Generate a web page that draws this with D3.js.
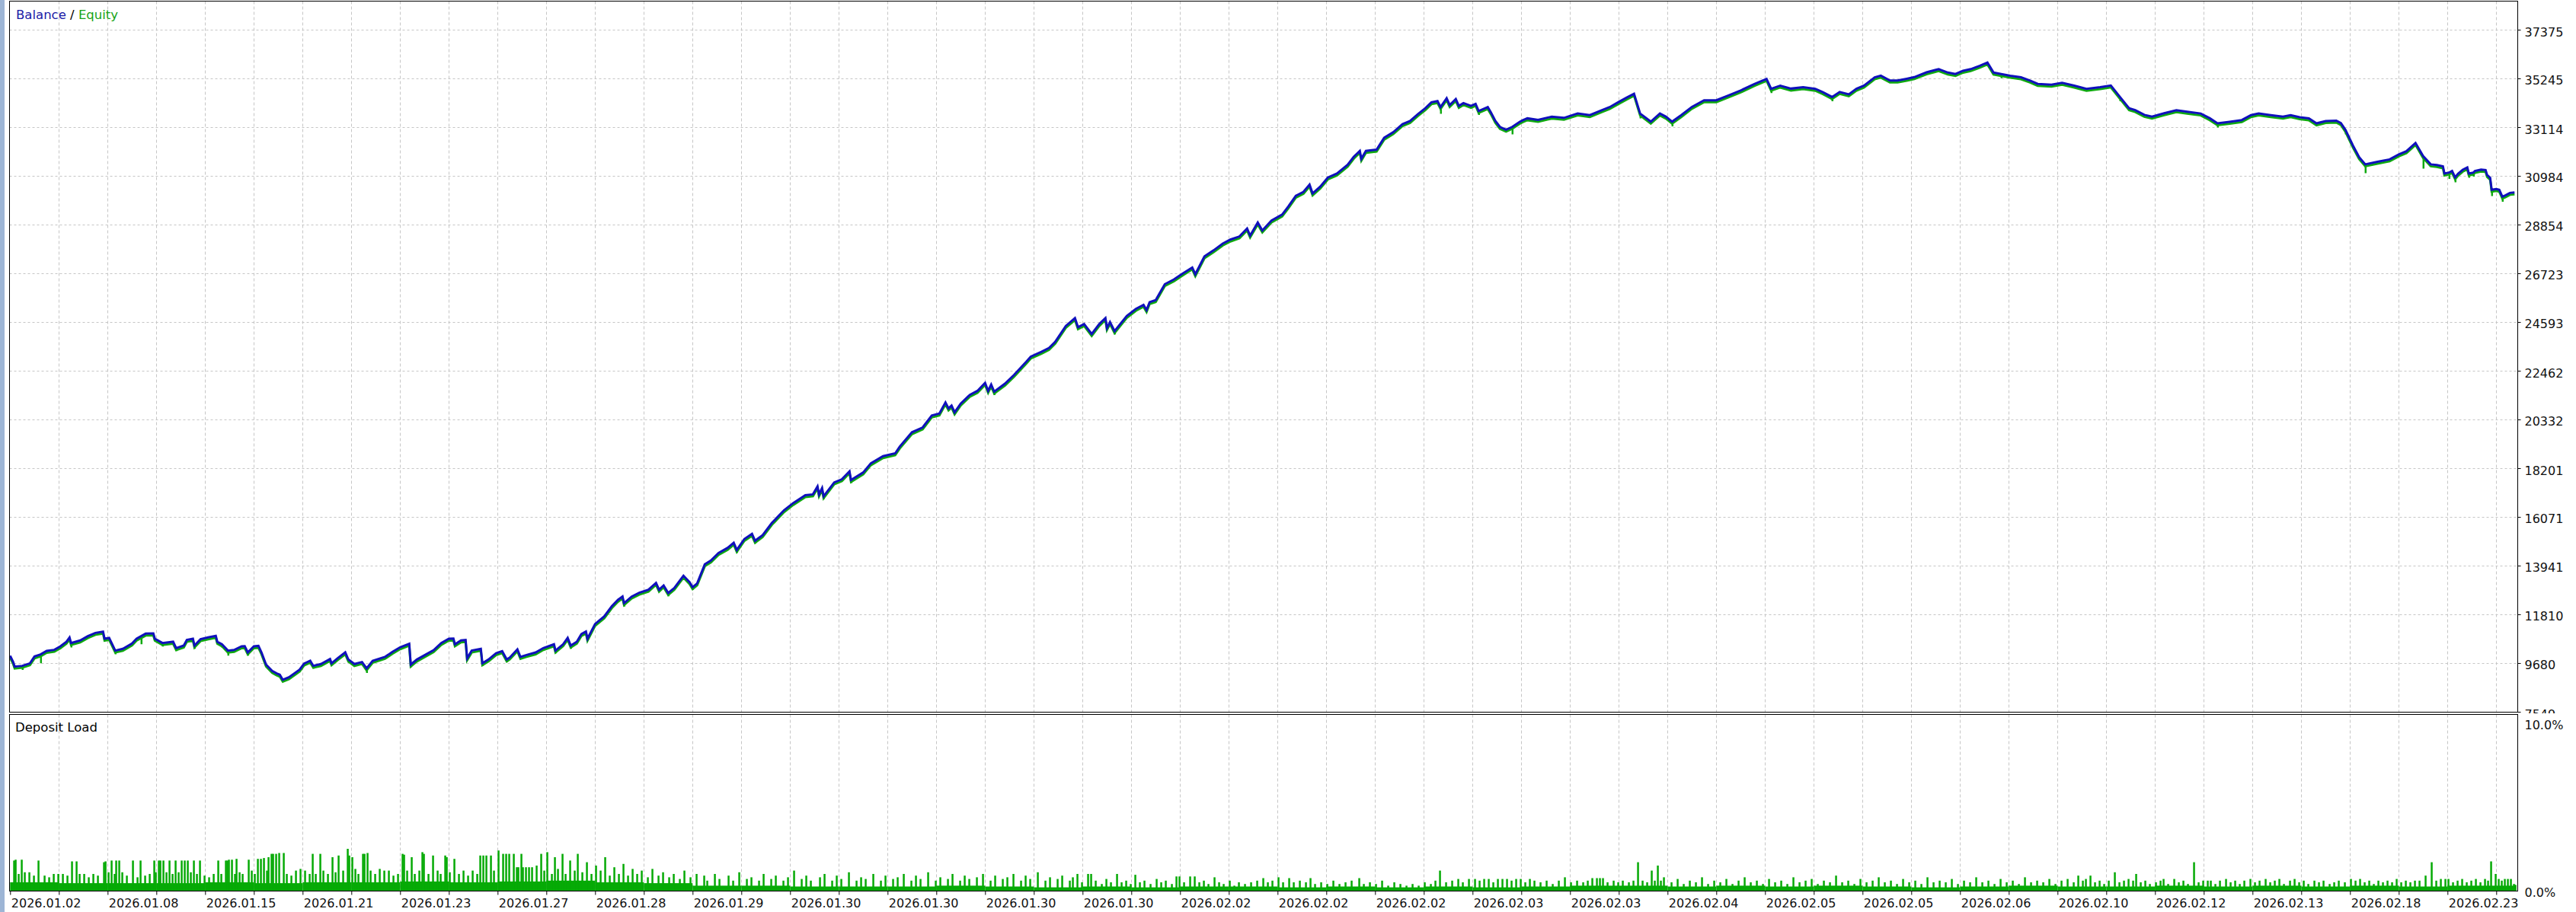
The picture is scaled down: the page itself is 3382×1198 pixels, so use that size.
<!DOCTYPE html>
<html>
<head>
<meta charset="utf-8">
<script src="https://cdn.jsdelivr.net/npm/d3@7"></script>
<style>
html,body{margin:0;padding:0;background:#fff;}
svg{display:block;}
</style>
</head>
<body>
<svg id="chart" width="3382" height="1198"></svg>
<script>
// ---------------- DATA ----------------
const tradeCount = 1645;
const balanceTicks = [7549, 9680, 11810, 13941, 16071, 18201, 20332, 22462, 24593, 26723, 28854, 30984, 33114, 35245, 37375];
const loadTicks = [0, 10];
const dateLabels = ["2026.01.02","2026.01.08","2026.01.15","2026.01.21","2026.01.23","2026.01.27","2026.01.28","2026.01.29",
  "2026.01.30","2026.01.30","2026.01.30","2026.01.30","2026.02.02","2026.02.02","2026.02.02","2026.02.03","2026.02.03",
  "2026.02.04","2026.02.05","2026.02.05","2026.02.06","2026.02.10","2026.02.12","2026.02.13","2026.02.18","2026.02.23"];

// balance: [trade number, balance]
const balance = [[0,10000],[2,9724],[3,9525],[8,9558],[13,9669],[16,9968],[20,10057],[24,10213],[29,10257],[33,10412],[37,10612],[39,10800],[40,10557],[46,10668],[51,10856],[56,11000],[61,11056],[62,10745],[65,10779],[69,10224],[74,10301],[80,10534],[83,10745],[89,10967],[94,10978],[95,10745],[100,10557],[107,10612],[109,10335],[114,10446],[116,10690],[120,10745],[121,10446],[125,10723],[130,10800],[135,10867],[136,10612],[139,10501],[143,10224],[147,10250],[152,10412],[154,10420],[156,10146],[160,10412],[163,10430],[165,10146],[168,9613],[172,9336],[175,9225],[177,9170],[179,8948],[183,9059],[190,9391],[193,9658],[197,9780],[199,9558],[204,9636],[210,9857],[211,9669],[215,9890],[220,10146],[222,9835],[226,9636],[231,9724],[234,9447],[238,9780],[246,9946],[251,10168],[256,10368],[262,10523],[263,9613],[267,9835],[273,10057],[278,10246],[283,10557],[288,10745],[291,10750],[292,10501],[296,10668],[299,10690],[300,9890],[303,10224],[309,10301],[310,9669],[314,9835],[319,10113],[323,10202],[326,9835],[328,9924],[333,10279],[335,9946],[339,10035],[345,10146],[350,10335],[357,10501],[358,10224],[363,10501],[366,10779],[368,10446],[372,10612],[375,10945],[378,11056],[379,10745],[384,11389],[390,11722],[395,12165],[399,12443],[402,12587],[403,12298],[408,12587],[413,12753],[419,12887],[424,13186],[426,12887],[429,13075],[432,12742],[436,12964],[442,13497],[446,13219],[448,12997],[451,13164],[456,13996],[460,14162],[465,14495],[471,14717],[475,14939],[477,14628],[482,15105],[487,15327],[489,15028],[494,15272],[500,15803],[508,16361],[514,16674],[522,17023],[527,17057],[530,17405],[531,17057],[533,17335],[534,16970],[541,17579],[546,17718],[551,18066],[552,17683],[560,18014],[565,18414],[573,18727],[581,18849],[584,19145],[592,19772],[599,19981],[605,20503],[610,20590],[614,21077],[616,20816],[618,20938],[620,20642],[624,21025],[630,21408],[635,21582],[640,21930],[642,21582],[644,21861],[646,21547],[653,21895],[659,22278],[667,22853],[670,23079],[677,23288],[682,23462],[686,23723],[693,24419],[699,24767],[701,24367],[705,24506],[710,24071],[715,24506],[719,24767],[720,24332],[722,24593],[725,24193],[733,24854],[739,25168],[744,25342],[746,25115],[748,25463],[752,25550],[758,26247],[764,26456],[769,26682],[776,26978],[778,26682],[784,27465],[790,27726],[796,28021],[801,28196],[807,28335],[812,28683],[814,28370],[819,28944],[822,28596],[828,29031],[835,29292],[839,29641],[844,30111],[849,30285],[853,30598],[855,30215],[860,30511],[865,30911],[871,31085],[878,31468],[882,31816],[886,32077],[887,31729],[890,32077],[897,32130],[902,32652],[908,32895],[914,33244],[919,33383],[924,33679],[929,33940],[933,34201],[937,34253],[939,33992],[943,34375],[945,34079],[949,34340],[951,34044],[954,34166],[959,34044],[962,34131],[964,33818],[970,33992],[972,33766],[975,33383],[978,33122],[982,33000],[986,33122],[991,33348],[993,33418],[996,33500],[1003,33430],[1012,33570],[1020,33520],[1029,33710],[1037,33640],[1045,33857],[1050,33990],[1056,34216],[1061,34400],[1066,34575],[1070,33710],[1077,33354],[1083,33710],[1087,33570],[1091,33354],[1097,33640],[1104,34000],[1112,34290],[1120,34288],[1128,34500],[1136,34718],[1145,35000],[1153,35221],[1156,34790],[1162,34930],[1169,34800],[1177,34860],[1185,34790],[1190,34640],[1196,34431],[1201,34650],[1207,34550],[1212,34790],[1217,34934],[1224,35290],[1228,35364],[1234,35150],[1239,35150],[1245,35230],[1250,35300],[1258,35510],[1266,35652],[1272,35500],[1277,35436],[1282,35580],[1287,35650],[1293,35800],[1298,35939],[1302,35500],[1307,35436],[1313,35360],[1320,35293],[1326,35150],[1331,35006],[1340,34970],[1347,35050],[1355,34930],[1363,34790],[1372,34860],[1379,34934],[1385,34431],[1391,33940],[1395,33857],[1401,33650],[1406,33570],[1414,33720],[1422,33857],[1430,33780],[1438,33710],[1444,33500],[1449,33280],[1457,33350],[1465,33424],[1471,33640],[1476,33710],[1484,33640],[1492,33570],[1497,33640],[1503,33550],[1509,33500],[1514,33280],[1520,33380],[1527,33400],[1530,33290],[1533,32995],[1538,32300],[1542,31800],[1546,31487],[1554,31600],[1562,31703],[1568,31920],[1573,32062],[1579,32420],[1584,31847],[1589,31487],[1593,31459],[1597,31400],[1598,31083],[1601,31127],[1603,31200],[1605,30917],[1607,31083],[1610,31250],[1613,31349],[1614,31083],[1617,31127],[1618,31200],[1622,31260],[1625,31240],[1626,31017],[1628,30900],[1629,30374],[1632,30407],[1634,30374],[1636,30074],[1638,30130],[1641,30240],[1644,30262]];

// equity drawdown spikes: [trade number, equity low]
const equityDips = [[8,9380],[20,9670],[40,10360],[69,10060],[86,10500],[100,10400],[109,10200],[121,10300],[139,10350],[143,10000],[156,10000],[179,8850],[199,9440],[222,9700],[234,9250],[263,9500],[300,9800],[310,9550],[326,9720],[358,10100],[368,10300],[403,12150],[432,12600],[448,12880],[477,14500],[489,14900],[534,16850],[552,17550],[646,21400],[725,24050],[939,33700],[964,33650],[986,32800],[1070,33500],[1091,33150],[1156,34600],[1196,34250],[1307,35250],[1385,34250],[1449,33100],[1533,32800],[1546,31100],[1584,31300],[1601,30850],[1605,30700],[1614,30900],[1617,30950],[1629,30100],[1636,29850]];

// deposit load floor per 32-trade block (%)
const loadBase = [0.5,0.45,0.45,0.45,0.5,0.45,0.5,0.5,0.55,0.5,0.55,0.6,0.5,0.45,0.3,0.3,0.25,0.25,0.25,0.3,0.25,0.2,0.25,0.2,0.25,0.25,0.2,0.25,0.2,0.25,0.2,0.25,0.3,0.3,0.25,0.3,0.25,0.3,0.25,0.2,0.25,0.3,0.25,0.25,0.3,0.25,0.3,0.25,0.3,0.25,0.3,0.3];

// deposit load bars: [trade number, load %]
const loadBars = [[2,1.8],[3,1.85],[5,1.0],[7,1.85],[9,1.1],[12,1.1],[15,0.9],[18,1.8],[22,0.9],[25,0.8],[28,1.0],[31,1.0],[34,1.0],[37,0.9],[40,1.75],[43,1.75],[45,1.0],[48,1.0],[51,0.8],[54,1.0],[57,0.9],[61,1.7],[62,1.75],[64,1.1],[66,1.8],[68,1.0],[69,1.8],[71,1.8],[73,1.1],[76,0.9],[80,1.8],[83,0.8],[85,1.8],[88,0.9],[91,1.0],[94,1.8],[95,1.1],[97,1.8],[98,1.8],[100,1.8],[102,1.1],[104,1.8],[106,1.0],[108,1.8],[110,1.1],[112,1.8],[114,1.8],[116,1.8],[118,1.1],[120,1.8],[122,1.0],[124,1.8],[127,0.9],[130,0.8],[133,1.0],[136,1.8],[138,1.0],[141,1.8],[142,1.8],[143,1.85],[145,1.85],[147,1.0],[148,1.9],[150,1.1],[152,1.0],[156,1.85],[158,1.2],[160,1.0],[162,1.9],[164,1.9],[166,1.95],[168,1.2],[169,2.0],[171,2.2],[172,2.2],[174,2.2],[176,2.25],[179,2.25],[181,1.0],[184,0.9],[187,1.2],[190,1.3],[193,1.2],[196,1.0],[198,2.2],[200,1.0],[203,2.2],[205,1.2],[208,1.0],[211,2.0],[213,1.1],[215,2.1],[218,1.2],[221,2.5],[222,2.1],[224,2.0],[226,1.3],[228,1.0],[231,2.2],[232,2.2],[234,2.25],[236,1.2],[239,1.0],[242,1.3],[245,1.2],[248,1.2],[251,0.9],[254,1.0],[257,2.2],[258,2.15],[260,1.2],[263,2.0],[265,1.0],[268,1.2],[270,2.3],[271,2.2],[274,1.0],[277,2.1],[280,1.2],[282,1.0],[285,2.1],[286,2.0],[288,1.1],[291,1.9],[294,1.0],[297,1.2],[300,0.9],[303,1.2],[306,1.0],[308,2.1],[310,2.1],[312,2.1],[315,2.1],[317,1.2],[320,2.4],[323,2.2],[325,2.2],[327,2.2],[330,2.2],[332,1.4],[333,1.4],[335,2.2],[336,1.4],[338,1.4],[340,1.4],[342,1.4],
[345,1.5],[348,2.2],[350,1.2],[352,2.3],[355,1.0],[357,2.0],[359,1.3],[362,2.2],[364,1.0],[367,1.8],[370,1.2],[372,2.2],[375,1.1],[378,1.7],[381,1.0],[384,1.5],[387,1.2],[390,2.0],[393,0.9],[396,1.4],[399,1.0],[402,1.6],[405,0.9],[408,1.3],[411,1.0],[414,1.2],[418,0.8],[421,1.3],[425,0.9],[428,1.1],[432,0.8],[435,1.0],[439,0.7],[442,1.2],[446,0.8],[450,1.0],
[455,0.9],[457,0.6],[462,1.0],[465,0.7],[471,0.9],[474,0.6],[478,1.1],[483,0.7],[486,0.8],[491,0.6],[494,1.0],[499,0.7],[502,0.9],[507,0.6],[510,0.8],[514,1.2],[519,0.7],[522,0.9],[525,0.6],[531,0.8],[534,1.0],[539,0.6],[542,0.9],[545,0.7],[550,1.1],[555,0.6],[558,0.8],[561,0.7],[566,1.0],[571,0.6],[574,0.9],[579,0.7],[582,0.8],[586,1.0],[591,0.6],[594,0.9],[597,0.7],[602,1.1],[607,0.6],[610,0.8],[615,0.7],[618,1.0],[623,0.6],[626,0.9],[629,0.7],[634,0.8],[638,1.0],[643,0.6],[646,0.9],[651,0.7],[654,0.8],[658,1.0],[663,0.6],[666,0.9],[669,0.7],[674,1.1],[679,0.6],[682,0.8],[687,0.7],[690,0.9],[695,0.6],[697,0.8],
[700,1.0],[703,0.5],[707,1.0],[709,1.0],[712,0.6],[716,0.4],[719,0.7],[722,0.5],[726,1.0],[729,0.5],[732,0.6],[735,0.4],[738,0.95],[741,0.5],[744,0.6],[748,0.4],[752,0.7],[755,0.5],[758,0.6],[762,0.4],[765,0.85],[767,0.85],[770,0.5],[774,0.85],[777,0.85],[780,0.5],[783,0.6],[786,0.4],[790,0.8],[793,0.5],[796,0.4],[800,0.6],[803,0.3],[806,0.5],[810,0.4],[814,0.5],[818,0.6],[822,0.75],[825,0.5],[828,0.6],[832,0.8],[835,0.5],[839,0.75],[842,0.5],[846,0.6],[850,0.5],[853,0.75],[856,0.4],[860,0.5],[864,0.4],[868,0.6],[872,0.4],[876,0.5],[880,0.6],[885,0.75],[888,0.4],[892,0.5],[896,0.4],[900,0.6],[904,0.3],[908,0.5],[912,0.4],[916,0.3],[920,0.4],[924,0.3],[928,0.5],[932,0.4],[935,0.6],[938,1.2],[942,0.5],[946,0.6],[950,0.7],[953,0.5],[957,0.7],[961,0.7],[964,0.6],[967,0.7],[970,0.7],[973,0.5],[976,0.7],[979,0.7],[982,0.7],[985,0.6],[988,0.7],[991,0.7],[994,0.5],[997,0.7],[1000,0.6],[1004,0.5],[1008,0.6],[1012,0.4],[1016,0.6],[1020,0.8],[1024,0.5],[1028,0.6],[1032,0.5],[1035,0.6],[1038,0.75],[1041,0.75],[1043,0.75],[1045,0.75],[1048,0.5],[1052,0.6],[1055,0.5],[1058,0.6],[1062,0.5],[1065,0.6],[1068,1.7],[1071,0.6],[1074,0.5],[1077,1.2],[1079,0.6],[1081,1.5],[1083,0.6],[1085,0.8],
[1090,0.5],[1094,0.7],[1098,0.4],[1102,0.6],[1106,0.5],[1110,0.8],[1114,0.4],[1118,0.6],[1122,0.5],[1126,0.7],[1130,0.4],[1134,0.6],[1138,0.8],[1142,0.5],[1146,0.6],[1150,0.4],[1154,0.7],[1158,0.5],[1162,0.6],[1166,0.4],[1170,0.8],[1174,0.5],[1178,0.6],[1182,0.7],[1186,0.4],[1190,0.6],[1194,0.5],[1198,0.9],[1202,0.5],[1206,0.6],[1210,0.4],[1214,0.7],[1218,0.5],[1222,0.6],[1226,0.8],[1230,0.5],[1234,0.6],[1238,0.4],[1242,0.7],[1246,0.5],[1250,0.6],[1254,0.4],[1258,0.8],[1262,0.5],[1266,0.6],[1270,0.5],[1274,0.7],[1278,0.4],[1282,0.6],[1286,0.5],[1290,0.8],[1294,0.5],[1298,0.6],[1302,0.4],[1306,0.7],[1310,0.5],[1314,0.6],[1318,0.4],[1322,0.8],[1326,0.5],[1330,0.6],[1334,0.5],[1338,0.7],[1342,0.4],
[1346,0.6],[1350,0.7],[1354,0.5],[1357,0.9],[1360,0.6],[1362,0.7],[1365,0.9],[1368,0.5],[1371,0.6],[1374,0.4],[1377,0.6],[1381,1.1],[1384,0.5],[1387,0.6],[1390,0.7],[1393,0.6],[1395,1.0],[1398,0.5],[1401,0.6],[1404,0.4],[1408,0.5],[1411,0.6],[1413,0.7],[1416,0.4],[1420,0.7],[1423,0.5],[1426,0.6],[1429,0.4],[1433,1.7],[1436,0.5],[1439,0.6],[1442,0.6],[1444,0.6],[1447,0.4],[1450,0.6],[1454,0.7],[1457,0.5],[1460,0.6],[1463,0.4],[1466,0.6],[1470,0.7],[1473,0.5],[1476,0.6],[1480,0.7],[1483,0.5],[1486,0.6],[1489,0.7],[1492,0.4],[1496,0.6],[1499,0.7],[1502,0.5],[1505,0.6],[1508,0.4],[1512,0.6],[1515,0.5],[1518,0.6],[1522,0.4],[1525,0.5],[1528,0.6],[1532,0.5],[1536,0.7],[1539,0.6],[1542,0.7],[1545,0.5],[1548,0.6],[1551,0.4],[1554,0.6],[1557,0.5],[1560,0.6],[1563,0.5],[1566,0.7],[1569,0.5],[1572,0.6],[1575,0.5],[1578,0.6],[1581,0.6],[1585,0.9],[1589,1.7],[1592,0.6],[1595,0.7],[1598,0.7],[1600,0.7],[1603,0.5],[1606,0.6],[1609,0.7],[1612,0.5],[1615,0.6],[1618,0.7],[1621,0.5],[1624,0.7],[1626,0.6],[1628,1.75],[1631,1.0],[1633,0.7],[1635,0.6],[1637,0.7],[1639,0.7],[1641,0.7],[1643,0.4],[1644,0.35]];

// ---------------- LAYOUT / STYLE ----------------
const FONT = "'DejaVu Sans', Verdana, sans-serif";
const frameL = 12.5, frameR = 3305.5;
const mainTop = 1.5, mainBot = 935.5, loadTop = 938.5, loadBot = 1170.5;
const gridStep = 32, labelStep = 64;
const BLUE = "#1010bc", GREEN = "#10aa10", LOADGREEN = "#06aa06", GRID = "#c6c6c6";

const svg = d3.select("#chart");
svg.append("rect").attr("x",0).attr("y",0).attr("width",3382).attr("height",1198).attr("fill","#fff");
svg.append("rect").attr("x",0).attr("y",0).attr("width",6).attr("height",1198).attr("fill","#9db5d5");

const x = d3.scaleLinear().domain([0, tradeCount]).range([13.3, 3303.3]);
const yMain = d3.scaleLinear().domain([balanceTicks[0], balanceTicks[balanceTicks.length-1]]).range([935, 39]);
const yLoad = d3.scaleLinear().domain([loadTicks[0], loadTicks[1]]).range([1170, 950]);

const defs = svg.append("defs");
defs.append("clipPath").attr("id","clipMain").append("rect")
  .attr("x",frameL).attr("y",mainTop).attr("width",frameR-frameL).attr("height",mainBot-mainTop);
defs.append("clipPath").attr("id","clipLoad").append("rect")
  .attr("x",frameL).attr("y",loadTop).attr("width",frameR-frameL).attr("height",loadBot-loadTop);
defs.append("clipPath").attr("id","clipYLab").append("rect")
  .attr("x",frameR).attr("y",0).attr("width",100).attr("height",mainBot+1.5);

const gridX = d3.range(gridStep, tradeCount, gridStep);

// main panel grid
const gMainGrid = svg.append("g").attr("clip-path","url(#clipMain)");
gMainGrid.selectAll("line.h").data(balanceTicks).join("line")
  .attr("x1",frameL).attr("x2",frameR)
  .attr("y1",d=>Math.round(yMain(d))+0.5).attr("y2",d=>Math.round(yMain(d))+0.5)
  .attr("stroke",GRID).attr("stroke-dasharray","3,3");
gMainGrid.selectAll("line.v").data(gridX).join("line")
  .attr("x1",d=>Math.round(x(d))+0.5).attr("x2",d=>Math.round(x(d))+0.5)
  .attr("y1",mainTop).attr("y2",mainBot)
  .attr("stroke",GRID).attr("stroke-dasharray","4,3");

// load panel grid
const gLoadGrid = svg.append("g").attr("clip-path","url(#clipLoad)");
gLoadGrid.selectAll("line").data(gridX).join("line")
  .attr("x1",d=>Math.round(x(d))+0.5).attr("x2",d=>Math.round(x(d))+0.5)
  .attr("y1",loadTop).attr("y2",loadBot)
  .attr("stroke",GRID).attr("stroke-dasharray","4,3");

// balance/equity
const gLines = svg.append("g").attr("clip-path","url(#clipMain)");
const line = d3.line().x(d=>x(d[0])).y(d=>yMain(d[1])).curve(d3.curveLinear);
const bis = d3.bisector(d=>d[0]).right;
function balanceAt(t){ const i = Math.max(0, bis(balance, t)-1); return balance[i][1]; }

gLines.append("path").datum(balance).attr("d",line)
  .attr("fill","none").attr("stroke",GREEN).attr("stroke-width",3)
  .attr("stroke-linejoin","miter").attr("transform","translate(0,2.5)");
gLines.selectAll("line.dip").data(equityDips).join("line")
  .attr("x1",d=>x(d[0])+0.5).attr("x2",d=>x(d[0])+0.5)
  .attr("y1",d=>yMain(balanceAt(d[0]))).attr("y2",d=>yMain(d[1]))
  .attr("stroke",GREEN).attr("stroke-width",2.5);
gLines.append("path").datum(balance).attr("d",line)
  .attr("fill","none").attr("stroke",BLUE).attr("stroke-width",3)
  .attr("stroke-linejoin","miter");

// deposit load
const gLoad = svg.append("g").attr("clip-path","url(#clipLoad)");
gLoad.selectAll("rect.base").data(loadBase).join("rect")
  .attr("x",(d,i)=>x(i*gridStep))
  .attr("width",(d,i)=>x(Math.min(tradeCount,(i+1)*gridStep)) - x(i*gridStep))
  .attr("y",d=>yLoad(d)).attr("height",d=>yLoad(0)-yLoad(d))
  .attr("fill",LOADGREEN);
gLoad.selectAll("rect.bar").data(loadBars).join("rect")
  .attr("x",d=>x(d[0])).attr("width",2.5)
  .attr("y",d=>yLoad(d[1])).attr("height",d=>yLoad(0)-yLoad(d[1]))
  .attr("fill",LOADGREEN);

// frames
svg.append("rect").attr("x",frameL).attr("y",mainTop).attr("width",frameR-frameL).attr("height",mainBot-mainTop)
  .attr("fill","none").attr("stroke","#000").attr("stroke-width",1);
svg.append("rect").attr("x",frameL).attr("y",loadTop).attr("width",frameR-frameL).attr("height",loadBot-loadTop)
  .attr("fill","none").attr("stroke","#000").attr("stroke-width",1);

// y axis main (clip wrapper outside the translated axis group)
const yAxis = d3.axisRight(yMain).tickValues(balanceTicks).tickSize(4).tickPadding(5).tickFormat(d3.format("d"));
const gYWrap = svg.append("g").attr("clip-path","url(#clipYLab)");
const gY = gYWrap.append("g").attr("transform",`translate(${frameR},0)`).call(yAxis);
gY.select(".domain").remove();
gY.selectAll(".tick line").attr("stroke","#000");
gY.selectAll(".tick text").attr("font-family",FONT).attr("font-size",16).attr("fill","#111").attr("dy","0.5em");

// y axis load
const yLoadAxis = d3.axisRight(yLoad).tickValues(loadTicks).tickSize(0).tickPadding(9).tickFormat(d=>d3.format(".1f")(d)+"%");
const gYL = svg.append("g").attr("transform",`translate(${frameR},0)`).call(yLoadAxis);
gYL.select(".domain").remove();
gYL.selectAll(".tick text").attr("font-family",FONT).attr("font-size",16).attr("fill","#111").attr("dy","0.47em");

// x axis
const xAxis = d3.axisBottom(x).tickValues(d3.range(0, tradeCount, gridStep)).tickSize(5)
  .tickFormat(d => (d % labelStep === 0) ? dateLabels[d/labelStep] : "");
const gX = svg.append("g").attr("transform",`translate(0,${loadBot})`).call(xAxis);
gX.select(".domain").remove();
gX.selectAll(".tick line").attr("stroke","#000");
gX.selectAll(".tick text").attr("font-family",FONT).attr("font-size",16).attr("fill","#111")
  .attr("text-anchor","start").attr("x",1).attr("y",21).attr("dy",0);

// titles
const t1 = svg.append("text").attr("x",21).attr("y",25).attr("font-family",FONT).attr("font-size",16.5);
t1.append("tspan").attr("fill","#1a1aa6").text("Balance");
t1.append("tspan").attr("fill","#000").text(" / ");
t1.append("tspan").attr("fill","#16a316").text("Equity");
svg.append("text").attr("x",20).attr("y",961).attr("font-family",FONT).attr("font-size",16.5).attr("fill","#000").text("Deposit Load");
</script>
</body>
</html>
